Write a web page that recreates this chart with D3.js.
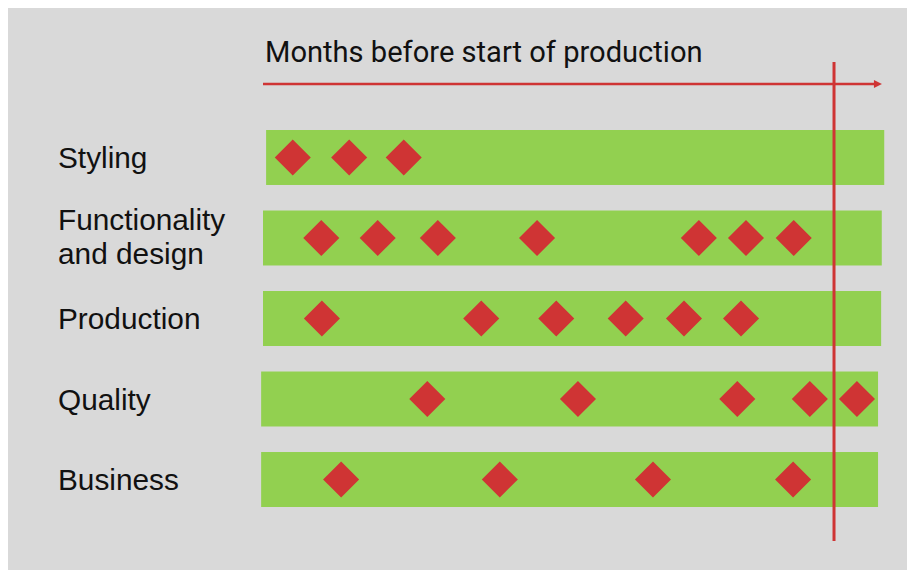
<!DOCTYPE html>
<html>
<head>
<meta charset="utf-8">
<script src="https://cdn.jsdelivr.net/npm/d3@7"></script>
<style>
  html, body { margin: 0; padding: 0; background: #ffffff; }
  svg { display: block; }
</style>
</head>
<body>
<svg id="chart" width="907" height="570"></svg>
<script>
// ---------- data ----------
const categories = ["Styling", "Functionality\nand design", "Production", "Quality", "Business"];
// bar extents along the timeline (0 = start of axis, 100 = end of axis)
const barStart = [0.5, 0, 0, -0.3, -0.3];
const barEnd   = [100.2, 99.8, 99.7, 99.2, 99.2];
// milestone positions along the timeline
const stylingPts       = [4.8, 13.9, 22.7];
const functionalityPts = [9.4, 18.5, 28.2, 44.2, 70.3, 77.9, 85.6];
const productionPts    = [9.5, 35.2, 47.3, 58.5, 67.9, 77.1];
const qualityPts       = [26.5, 50.8, 76.5, 88.2, 95.8];
const businessPts      = [12.6, 38.2, 62.9, 85.5];
const sopPosition = 92.1; // start of production marker
const axisTitle = "Months before start of production";

const milestones = [stylingPts, functionalityPts, productionPts, qualityPts, businessPts];

// ---------- layout ----------
const svg = d3.select("#chart");
const W = 907, H = 570;

svg.append("rect").attr("x", 8).attr("y", 8).attr("width", W - 8).attr("height", H - 8)
  .attr("fill", "#d9d9d9");

const x = d3.scaleLinear().domain([0, 100]).range([263, 883]);
const y = d3.scaleBand().domain(categories).range([130, 507]).paddingInner(0.317).paddingOuter(0);

const green = "#92d050", red = "#cf3434";

// bars
svg.append("g").selectAll("rect").data(categories).join("rect")
  .attr("x", (d, i) => x(barStart[i]))
  .attr("width", (d, i) => x(barEnd[i]) - x(barStart[i]))
  .attr("y", d => y(d))
  .attr("height", y.bandwidth())
  .attr("fill", green);

// diamonds
const diamond = d3.symbol().type(d3.symbolSquare).size(650);
categories.forEach((c, i) => {
  svg.append("g").selectAll("path").data(milestones[i]).join("path")
    .attr("d", diamond)
    .attr("transform", v => `translate(${x(v)},${y(c) + y.bandwidth() / 2}) rotate(45)`)
    .attr("fill", red);
});

// labels
const labels = svg.append("g").attr("font-family", "'Liberation Sans', Arial, sans-serif")
  .attr("font-size", 29.8).attr("fill", "#111");
categories.forEach(c => {
  const lines = c.split("\n");
  const cy = y(c) + y.bandwidth() / 2;
  const lh = 34;
  const t = labels.append("text").attr("x", 58);
  lines.forEach((ln, k) => {
    t.append("tspan").attr("x", 58)
      .attr("y", cy + 10.5 + (k - (lines.length - 1) / 2) * lh - (lines.length > 1 ? 1 : 0))
      .text(ln);
  });
});

// axis title
svg.append("text").attr("x", 265).attr("y", 61.5)
  .attr("font-family", "Roboto, 'Liberation Sans', sans-serif")
  .attr("font-size", 29.1).attr("fill", "#111")
  .text(axisTitle);

// arrow axis line
const defs = svg.append("defs");
defs.append("marker").attr("id", "arrow").attr("viewBox", "0 0 10 10")
  .attr("refX", 2).attr("refY", 5).attr("markerWidth", 9).attr("markerHeight", 8)
  .attr("markerUnits", "userSpaceOnUse").attr("orient", "auto")
  .append("path").attr("d", "M0,0 L10,5 L0,10 Z").attr("fill", red);

svg.append("line").attr("x1", x(0)).attr("x2", x(98.8)).attr("y1", 84).attr("y2", 84)
  .attr("stroke", red).attr("stroke-width", 2.5).attr("marker-end", "url(#arrow)");

// start-of-production line
svg.append("line").attr("x1", x(sopPosition)).attr("x2", x(sopPosition))
  .attr("y1", 62).attr("y2", 541)
  .attr("stroke", red).attr("stroke-width", 3);
</script>
</body>
</html>
